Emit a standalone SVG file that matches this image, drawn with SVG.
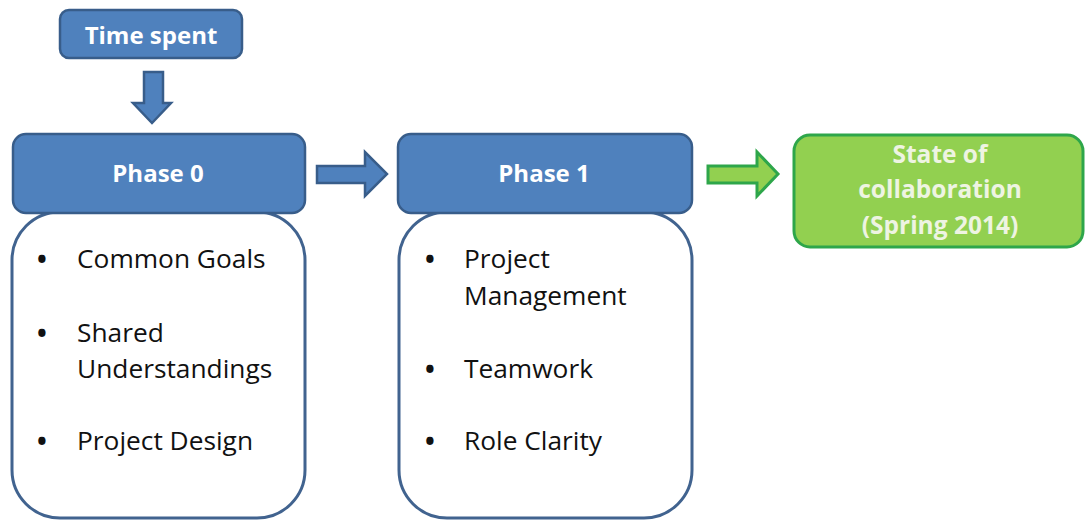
<svg xmlns="http://www.w3.org/2000/svg" width="1087" height="521" viewBox="0 0 1087 521">
<style>
.blue{fill:#4F81BD;stroke:#385D8A;stroke-width:2.5}
.list{fill:#FFFFFF;stroke:#41638F;stroke-width:3}
.green{fill:#92D050;stroke:#2EA64A;stroke-width:3}
.hd{font-family:"Open Sans","Liberation Sans",sans-serif;font-weight:bold;font-size:24px;fill:#FFFFFF;text-anchor:middle}
.gt{font-family:"Open Sans","Liberation Sans",sans-serif;font-weight:bold;font-size:24.5px;fill:#EEF4E2;text-anchor:middle}
.it{font-family:"Open Sans","Liberation Sans",sans-serif;font-size:26.3px;fill:#111111}
.bu{font-family:"Open Sans","Liberation Sans",sans-serif;font-size:26px;font-weight:bold;fill:#111111}
</style>
<rect width="1087" height="521" fill="#FFFFFF"/>
<g id="connectors">
<polygon class="blue" points="144,72 163,72 163,103 171,103 152,123 133,103 144,103"/>
<polygon class="blue" points="317,166 365,166 365,152 387,174 365,196 365,183 317,183"/>
<polygon class="green" points="708,166 757,166 757,152 778,174 757,196 757,183 708,183"/>
</g>
<g id="time-spent">
<rect class="blue" x="60" y="10" width="182" height="48" rx="9"/>
<text class="hd" x="151" y="44">Time spent</text>
</g>
<g id="phase0-list">
<rect class="list" x="12" y="212" width="293" height="306" rx="48"/>
<text class="bu" x="37" y="269">•</text>
<text class="it" x="77" y="268">Common Goals</text>
<text class="bu" x="37" y="343">•</text>
<text class="it" x="77" y="342">Shared</text>
<text class="it" x="77" y="378">Understandings</text>
<text class="bu" x="37" y="451">•</text>
<text class="it" x="77" y="450">Project Design</text>
</g>
<g id="phase0">
<rect class="blue" x="13" y="134" width="292" height="79" rx="13"/>
<text class="hd" x="158" y="182">Phase 0</text>
</g>
<g id="phase1-list">
<rect class="list" x="399" y="212" width="293" height="306" rx="48"/>
<text class="bu" x="425" y="269">•</text>
<text class="it" x="464" y="268">Project</text>
<text class="it" x="464" y="305">Management</text>
<text class="bu" x="425" y="379">•</text>
<text class="it" x="464" y="378">Teamwork</text>
<text class="bu" x="425" y="451">•</text>
<text class="it" x="464" y="450">Role Clarity</text>
</g>
<g id="phase1">
<rect class="blue" x="398" y="134" width="294" height="79" rx="13"/>
<text class="hd" x="544" y="182">Phase 1</text>
</g>
<g id="state">
<rect class="green" x="794" y="135" width="289" height="112" rx="16"/>
<text class="gt" x="940" y="163">State of</text>
<text class="gt" x="940" y="198">collaboration</text>
<text class="gt" x="940" y="234">(Spring 2014)</text>
</g>
</svg>
